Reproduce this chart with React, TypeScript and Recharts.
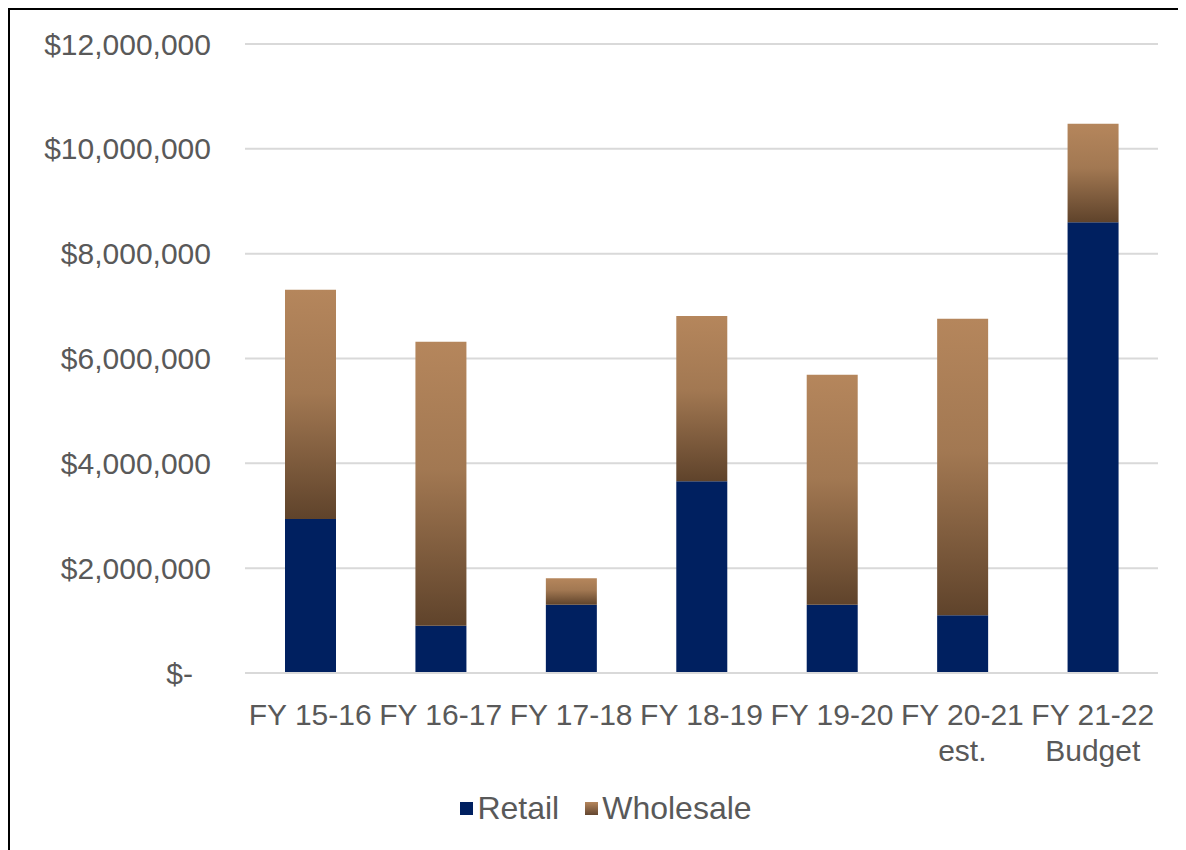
import { BarChart, Bar, XAxis, YAxis, CartesianGrid, Legend } from 'recharts'

const categories = ['FY 15-16', 'FY 16-17', 'FY 17-18', 'FY 18-19', 'FY 19-20', 'FY 20-21\nest.', 'FY 21-22\nBudget']
const retail = [2940000, 900000, 1300000, 3660000, 1300000, 1100000, 8600000]
const wholesale = [4370000, 5420000, 510000, 3150000, 4390000, 5660000, 1880000]
const yTicks = [0, 2000000, 4000000, 6000000, 8000000, 10000000, 12000000]

const data = categories.map((name, i) => ({ name, retail: retail[i], wholesale: wholesale[i] }))

const FONT = '"Liberation Sans", Arial, sans-serif'
const TEXT = '#595959'
const NAVY = '#002060'

function YTick({ x, y, payload }: any) {
  const v = payload.value
  const label = v === 0 ? '$-' : '$' + v.toLocaleString('en-US')
  return (
    <text x={v === 0 ? x - 18 : x} y={y} dy="0.355em" textAnchor="end" fill={TEXT} fontSize={30} fontFamily={FONT}>
      {label}
    </text>
  )
}

function XTick({ x, y, payload }: any) {
  const lines = String(payload.value).split('\n')
  return (
    <text x={x} y={y} textAnchor="middle" fill={TEXT} fontSize={30} fontFamily={FONT}>
      {lines.map((l, i) => (
        <tspan key={i} x={x} y={y + 44 + i * 36}>{l}</tspan>
      ))}
    </text>
  )
}

function LegendBox() {
  const item = (label: string, fill: string) => (
    <span style={{ display: 'inline-flex', alignItems: 'center', margin: '0 13px' }}>
      <span style={{ width: 13, height: 13, background: fill, marginRight: 4, display: 'inline-block' }} />
      <span style={{ fontSize: 32, color: TEXT, fontFamily: FONT }}>{label}</span>
    </span>
  )
  return (
    <div style={{ display: 'flex', justifyContent: 'center', alignItems: 'center', height: 40, paddingLeft: 44 }}>
      {item('Retail', NAVY)}
      {item('Wholesale', 'linear-gradient(#b5865c, #634630)')}
    </div>
  )
}

export default function App() {
  return (
    <div
      style={{
        position: 'relative',
        width: 1178,
        height: 842,
        borderTop: '2px solid #000',
        borderLeft: '2px solid #000',
        boxSizing: 'border-box',
        background: '#fff',
      }}
    >
      <BarChart
        width={1176}
        height={840}
        data={data}
        margin={{ top: 34, right: 28, left: 0, bottom: 22 }}
        barSize={51}
      >
        <defs>
          <linearGradient id="wholesaleGrad" x1="0" y1="0" x2="0" y2="1">
            <stop offset="0%" stopColor="#b5865c" />
            <stop offset="45%" stopColor="#a27852" />
            <stop offset="100%" stopColor="#5f432b" />
          </linearGradient>
        </defs>
        <CartesianGrid vertical={false} stroke="#d9d9d9" strokeWidth={2} />
        <XAxis
          dataKey="name"
          interval={0}
          height={115}
          tickLine={false}
          axisLine={{ stroke: '#d9d9d9', strokeWidth: 2 }}
          tick={<XTick />}
        />
        <YAxis
          width={235}
          ticks={yTicks}
          domain={[0, 12000000]}
          axisLine={false}
          tickLine={false}
          tickSize={0}
          tickMargin={34}
          tick={<YTick />}
        />
        <Legend verticalAlign="bottom" height={40} content={<LegendBox />} />
        <Bar dataKey="retail" name="Retail" stackId="a" fill={NAVY} isAnimationActive={false} />
        <Bar dataKey="wholesale" name="Wholesale" stackId="a" fill="url(#wholesaleGrad)" isAnimationActive={false} />
      </BarChart>
    </div>
  )
}
